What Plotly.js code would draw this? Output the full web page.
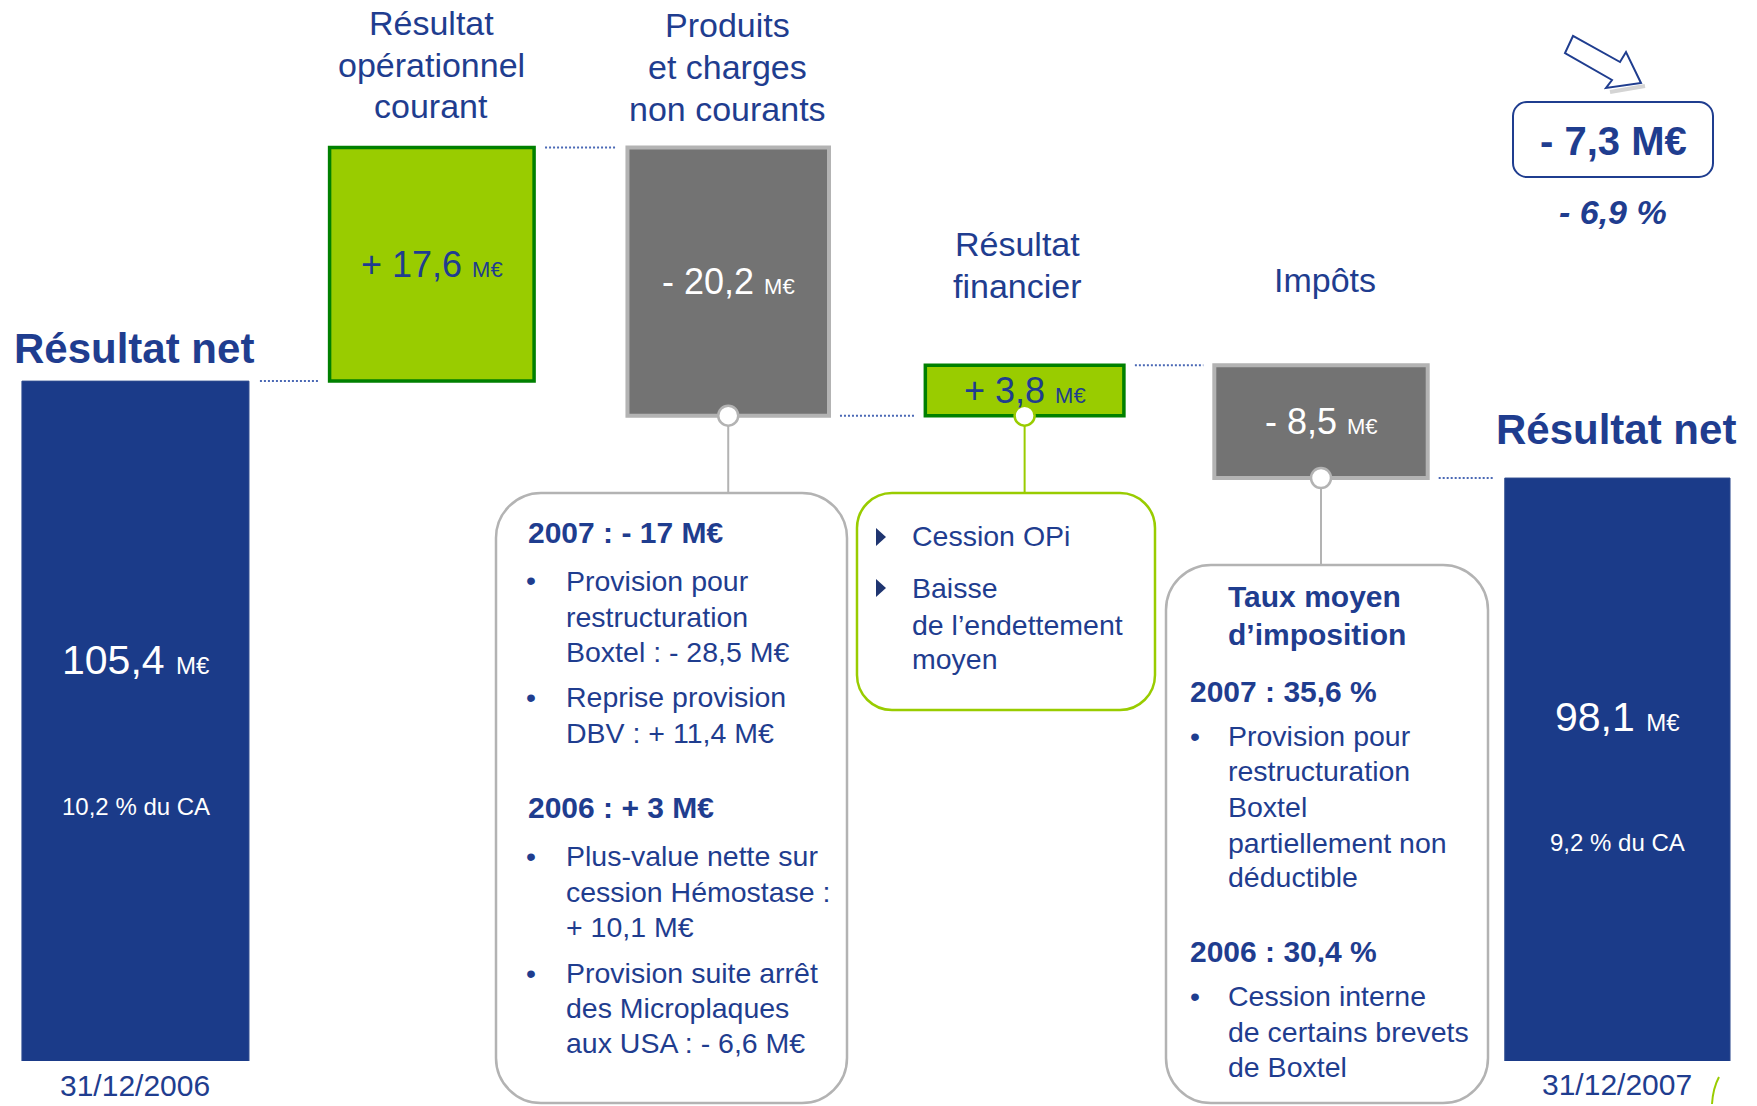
<!DOCTYPE html>
<html>
<head>
<meta charset="utf-8">
<script src="https://cdn.plot.ly/plotly-3.0.1.min.js"></script>
<style>html,body{margin:0;padding:0;background:#fff;}</style>
</head>
<body>
<div id="chart" style="width:1757px;height:1106px;"></div>
<script>
// ---------------- DATA ----------------
const categories = ['Résultat net 2006', 'Résultat opérationnel courant', 'Produits et charges non courants', 'Résultat financier', 'Impôts', 'Résultat net 2007'];
const measures = ['absolute', 'relative', 'relative', 'relative', 'relative', 'total'];
const values = [105.4, 17.6, -20.2, 3.8, -8.5, 0];
const shareOfSales = [10.2, 9.2];          // % du CA (2006, 2007)
const dateLabels = ['31/12/2006', '31/12/2007'];
const stepTitles = [['Résultat', 'opérationnel', 'courant'], ['Produits', 'et charges', 'non courants'], ['Résultat', 'financier'], ['Impôts']];
const totalTitle = 'Résultat net';

// ---------------- STYLE / LAYOUT CONSTANTS ----------------
const W = 1757, H = 1106, PB = 1061;
const Y_RANGE = [54.2, 134.1];
const X_RANGE = [-0.457, 5.471];
const BAR_W = [0.766, 0.69, 0.68, 0.67, 0.72, 0.76];
const FONT = 'Liberation Sans, Arial, sans-serif';
const BLUE = '#1F3D8F', NAVY = '#1B3B89', GREEN = '#99CC00', DKGREEN = '#008000', GRAY = '#737373', LTGRAY = '#B3B3B3';

const valToPx = v => (Y_RANGE[1] - v) / (Y_RANGE[1] - Y_RANGE[0]) * PB;
const pxToVal = p => Y_RANGE[1] - p / PB * (Y_RANGE[1] - Y_RANGE[0]);
const PX = x => x / W, PY = y => (PB - y) / PB;
const fmt = v => Math.abs(v).toFixed(1).replace('.', ',');

// cumulative levels
const levels = [], starts = [];
let run = 0;
values.forEach((v, i) => {
  if (measures[i] === 'absolute') { run = v; starts.push(0); }
  else if (measures[i] === 'relative') { starts.push(run); run += v; }
  else { starts.push(0); }
  levels.push(run);
});
const finalNet = levels[levels.length - 1];
const change = finalNet - levels[0];
const changePct = change / levels[0] * 100;

// ---------------- TRACES ----------------
const waterfall = {
  type: 'waterfall',
  x: categories.map((c, i) => i),
  y: values,
  measure: measures,
  width: BAR_W,
  textinfo: 'none',
  hoverinfo: 'skip',
  connector: {visible: false},
  increasing: {marker: {color: GREEN, line: {color: DKGREEN, width: 3.5}}},
  decreasing: {marker: {color: GRAY, line: {color: LTGRAY, width: 4}}},
  totals: {marker: {color: NAVY, line: {color: '#2E4B8E', width: 1}}}
};

// circles at bottom of boxes that have a comment
const noteIdx = [2, 3, 4];
const bottoms = noteIdx.map(i => Math.min(starts[i], levels[i]));
const circles = {
  type: 'scatter', mode: 'markers', x: noteIdx, y: bottoms, cliponaxis: false, hoverinfo: 'skip',
  marker: {size: 20, color: '#FFFFFF', line: {color: [LTGRAY, GREEN, LTGRAY], width: 2.5}}
};

// ---------------- ANNOTATIONS ----------------
const annotations = [];
function txt(text, px, py, o = {}) {
  annotations.push({
    xref: 'paper', yref: 'paper', x: PX(px), y: PY(py), text: text, showarrow: false,
    xanchor: o.anchor || 'left', yanchor: 'middle', align: o.anchor === 'center' ? 'center' : 'left',
    font: {family: FONT, size: o.size || 28.5, color: o.color || BLUE}
  });
}

// category titles
const titlePos = [{x: 431, ys: [23, 65, 106]}, {x: 727, ys: [25, 67, 109]}, {x: 1018, ys: [244, 286]}, {x: 1325, ys: [280]}];
stepTitles.forEach((lines, k) => lines.forEach((l, j) => txt(l, titlePos[k].x, titlePos[k].ys[j], {anchor: 'center', size: 34})));
txt('<b>' + totalTitle + '</b>', 134, 348, {anchor: 'center', size: 42});
txt('<b>' + totalTitle + '</b>', 1616, 429, {anchor: 'center', size: 42});
txt(dateLabels[0], 135, 1085, {anchor: 'center', size: 30});
txt(dateLabels[1], 1617, 1084, {anchor: 'center', size: 30});

// step values inside boxes (data coords)
for (let i = 1; i <= 4; i++) {
  const pos = values[i] >= 0;
  annotations.push({
    xref: 'x', yref: 'y', x: i, y: (starts[i] + levels[i]) / 2, showarrow: false,
    xanchor: 'center', yanchor: 'middle',
    text: (pos ? '+ ' : '- ') + fmt(values[i]) + ' <span style="font-size:22px">M€</span>',
    font: {family: FONT, size: 36, color: pos ? BLUE : '#FFFFFF'}
  });
}
// totals inside bars
[[0, 0], [5, 1]].forEach(([i, k]) => {
  const top = valToPx(levels[i]);
  const cx = 135.5 + i * 296.4;
  txt(fmt(levels[i]) + ' <span style="font-size:24px">M€</span>', cx, top + 0.41 * (PB - top), {anchor: 'center', size: 41, color: '#FFFFFF'});
  txt(String(shareOfSales[k]).replace('.', ',') + ' % du CA', cx, top + 0.625 * (PB - top), {anchor: 'center', size: 24, color: '#FFFFFF'});
});

// change summary (top right)
txt('<b>' + (change < 0 ? '- ' : '+ ') + fmt(change) + ' M€</b>', 1613, 141, {anchor: 'center', size: 40});
txt('<b><i>' + (changePct < 0 ? '- ' : '+ ') + fmt(changePct) + ' %</i></b>', 1613, 212, {anchor: 'center', size: 34});

// callout 1 text
txt('<b>2007 : - 17 M€</b>', 526, 533, {size: 30});
[580, 697, 856, 973].forEach(y => txt('•', 531, y, {anchor: 'center'}));
[['Provision pour', 581], ['restructuration', 617], ['Boxtel : - 28,5 M€', 652], ['Reprise provision', 697], ['DBV : + 11,4 M€', 733],
 ['Plus-value nette sur', 856], ['cession Hémostase :', 892], ['+ 10,1 M€', 927], ['Provision suite arrêt', 973], ['des Microplaques', 1008], ['aux USA : - 6,6 M€', 1043]]
  .forEach(([t, y]) => txt(t, 564, y));
txt('<b>2006 : + 3 M€</b>', 526, 807, {size: 30});

// callout 2 text
[['Cession OPi', 536], ['Baisse', 588], ['de l’endettement', 625], ['moyen', 659]].forEach(([t, y]) => txt(t, 910, y));

// callout 3 text
txt('<b>Taux moyen</b>', 1226, 596, {size: 30});
txt('<b>d’imposition</b>', 1226, 634, {size: 30});
txt('<b>2007 : 35,6 %</b>', 1188, 691, {size: 30});
txt('<b>2006 : 30,4 %</b>', 1188, 951, {size: 30});
[736, 996].forEach(y => txt('•', 1195, y, {anchor: 'center'}));
[['Provision pour', 736], ['restructuration', 771], ['Boxtel', 807], ['partiellement non', 843], ['déductible', 877],
 ['Cession interne', 996], ['de certains brevets', 1032], ['de Boxtel', 1067]].forEach(([t, y]) => txt(t, 1226, y));

// ---------------- SHAPES ----------------
const shapes = [];
// dotted connectors between consecutive bars at the running level
const GAP = 0.037;
for (let i = 0; i < values.length - 1; i++) {
  shapes.push({type: 'line', xref: 'x', yref: 'y', x0: i + BAR_W[i] / 2 + GAP, x1: i + 1 - BAR_W[i + 1] / 2 - GAP,
    y0: levels[i], y1: levels[i], line: {color: '#4A68B5', width: 2, dash: '2px,2px'}});
}
// vertical connectors to callouts
const calloutTop = [493, 493, 565];
noteIdx.forEach((i, k) => shapes.push({type: 'line', xref: 'x', yref: 'y', layer: 'below', x0: i, x1: i, y0: bottoms[k], y1: pxToVal(calloutTop[k]),
  line: {color: k === 1 ? GREEN : LTGRAY, width: 2}}));

function P(x, y) { return PX(x).toFixed(5) + ',' + PY(y).toFixed(5); }
function rrect(x0, y0, x1, y1, r) {
  const k = 0.4477 * r;
  return 'M' + P(x0 + r, y0) + ' L' + P(x1 - r, y0) + ' C' + P(x1 - k, y0) + ' ' + P(x1, y0 + k) + ' ' + P(x1, y0 + r) +
    ' L' + P(x1, y1 - r) + ' C' + P(x1, y1 - k) + ' ' + P(x1 - k, y1) + ' ' + P(x1 - r, y1) +
    ' L' + P(x0 + r, y1) + ' C' + P(x0 + k, y1) + ' ' + P(x0, y1 - k) + ' ' + P(x0, y1 - r) +
    ' L' + P(x0, y0 + r) + ' C' + P(x0, y0 + k) + ' ' + P(x0 + k, y0) + ' ' + P(x0 + r, y0) + ' Z';
}
function poly(pts) { return 'M' + pts.map(p => P(p[0], p[1])).join(' L') + ' Z'; }

shapes.push({type: 'path', xref: 'paper', yref: 'paper', path: rrect(496, 493, 847, 1103, 45), fillcolor: '#FFFFFF', line: {color: LTGRAY, width: 2.5}, layer: 'below'});
shapes.push({type: 'path', xref: 'paper', yref: 'paper', path: rrect(857, 493, 1155, 710, 35), fillcolor: '#FFFFFF', line: {color: GREEN, width: 2.5}, layer: 'below'});
shapes.push({type: 'path', xref: 'paper', yref: 'paper', path: rrect(1166, 565, 1488, 1103, 45), fillcolor: '#FFFFFF', line: {color: LTGRAY, width: 2.5}, layer: 'below'});
// triangle bullets
[537, 588].forEach(y => shapes.push({type: 'path', xref: 'paper', yref: 'paper', path: poly([[876, y - 9], [876, y + 9], [886, y]]), fillcolor: '#1F3570', line: {width: 0}}));
// top-right box and arrow
shapes.push({type: 'path', xref: 'paper', yref: 'paper', path: rrect(1513, 102, 1713, 177, 14), fillcolor: '#FFFFFF', line: {color: BLUE, width: 2}, layer: 'below'});
shapes.push({type: 'line', xref: 'paper', yref: 'paper', x0: PX(1610), y0: PY(92), x1: PX(1645), y1: PY(86), line: {color: '#D4D4D4', width: 4}});
shapes.push({type: 'path', xref: 'paper', yref: 'paper', path: poly([[1573, 36], [1620, 62], [1626, 52], [1641, 83], [1606, 88], [1612, 80], [1565, 53]]),
  fillcolor: '#FFFFFF', line: {color: BLUE, width: 2}});
// small decorative green stroke bottom-right
shapes.push({type: 'path', xref: 'paper', yref: 'paper', path: 'M' + P(1712, 1104) + ' Q' + P(1713, 1088) + ' ' + P(1719, 1077), line: {color: GREEN, width: 2}});

// ---------------- LAYOUT ----------------
const layout = {
  width: W, height: H,
  margin: {l: 0, r: 0, t: 0, b: H - PB, pad: 0},
  paper_bgcolor: '#FFFFFF', plot_bgcolor: '#FFFFFF',
  showlegend: false,
  xaxis: {range: X_RANGE, visible: false, fixedrange: true},
  yaxis: {range: Y_RANGE, visible: false, fixedrange: true},
  annotations: annotations,
  shapes: shapes,
  font: {family: FONT, color: BLUE}
};

Plotly.newPlot('chart', [waterfall, circles], layout, {displayModeBar: false, staticPlot: true});
</script>
</body>
</html>
